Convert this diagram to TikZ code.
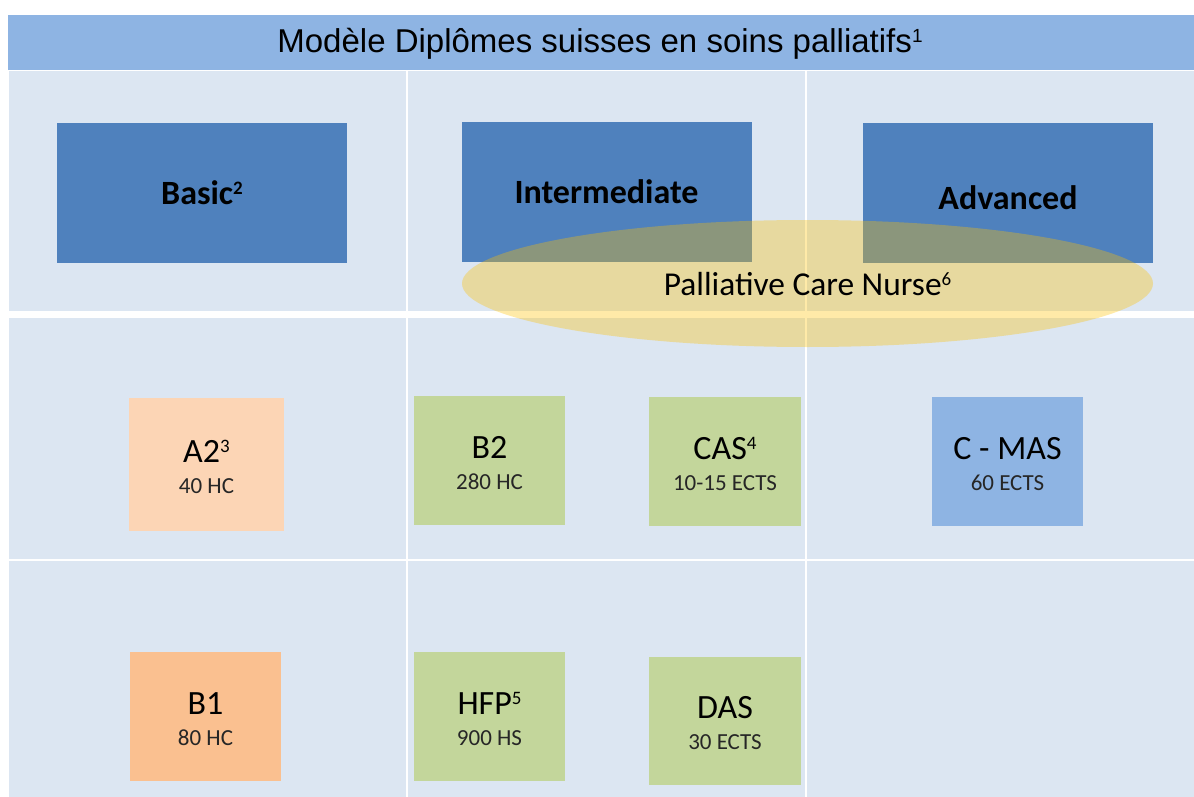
\documentclass[tikz,border=0pt]{standalone}
\usepackage{fontspec}
\setmainfont{Carlito}
\newfontfamily\arialfont{Liberation Sans}
\usetikzlibrary{shapes.geometric}

\definecolor{titleblue}{HTML}{8EB4E3}
\definecolor{cellbg}{HTML}{DCE6F2}
\definecolor{levelblue}{HTML}{4F81BD}
\definecolor{peachlight}{HTML}{FCD5B5}
\definecolor{peach}{HTML}{FAC090}
\definecolor{sage}{HTML}{C3D69B}
\definecolor{gold}{HTML}{FFC000}

% small raised footnote number
\newcommand{\upnum}[1]{\raisebox{5pt}{\fontsize{9.5}{11}\selectfont #1}}
\newcommand{\dipl}[2]{#1\\{\fontsize{11.5}{13}\selectfont\color{black!85}#2}}

\begin{document}
\begin{tikzpicture}[x=0.5pt,y=-0.5pt,
  levelbox/.style={fill=levelblue, inner sep=0pt, outer sep=0pt,
    minimum width=145pt, minimum height=70pt,
    text height=11.5pt, text depth=0pt,
    font=\bfseries\fontsize{17}{20}\selectfont},
  diplbox/.style={inner sep=0pt, outer sep=0pt, align=center,
    minimum width=76pt, minimum height=64.5pt,
    text height=28.5pt, text depth=0pt,
    font=\fontsize{17}{15.5}\selectfont},
  nurse/.style={ellipse, fill=gold, fill opacity=0.34, text opacity=1,
    inner sep=0pt, minimum width=345.5pt, minimum height=63.5pt,
    text height=11.5pt, text depth=0pt,
    font=\fontsize{16.7}{19}\selectfont}]

  \useasboundingbox (0,0) rectangle (1194,797);

%%%%%%%%%%%%%%%%%%%%%%%%%%%%%%%%%%%%%%%%%%
  % Title bar
  \fill[titleblue] (8,15) rectangle (1194,70);
  \node[anchor=base, font=\arialfont\fontsize{16.5}{19}\selectfont] (title) at (600,53)
    {Modèle Diplômes suisses en soins palliatifs\upnum{1}};

  % Grid cells
  \foreach \xa/\xb in {9/406,408/805,807/1194}
    \foreach \ya/\yb in {71/311,318/559,561/797}
      \fill[cellbg] (\xa,\ya) rectangle (\xb,\yb);

%%%%%%%%%%%%%%%%%%%%%%%%%%%%%%%%%%%%%%%%%%
  % Levels
  \node[levelbox] (basic) at (202,193) {Basic\upnum{2}};
  \node[levelbox] (intermediate) at (606.5,192) {Intermediate};
  \node[levelbox] (advanced) at (1008,193) {};
  \node[levelbox, fill=none] (advlabel) at (1008,198) {Advanced};

  % Palliative care nurse
  \node[nurse] (pcn) at (807.5,283.5) {Palliative Care Nurse\upnum{6}};

%%%%%%%%%%%%%%%%%%%%%%%%%%%%%%%%%%%%%%%%%%
  % Second row
  \node[diplbox, fill=peachlight, minimum width=77.5pt, minimum height=66.5pt]
    (a2) at (206.5,464.5) {\dipl{A2\upnum{3}}{40 HC}};
  \node[diplbox, fill=sage, minimum width=75.5pt] (b2) at (489.5,460.5) {\dipl{B2}{280 HC}};
  \node[diplbox, fill=sage] (cas) at (725,461.5) {\dipl{CAS\upnum{4}}{10-15 ECTS}};
  \node[diplbox, fill=titleblue, minimum width=75.5pt] (mas) at (1007.5,461.5) {\dipl{C - MAS}{60 ECTS}};

  % Third row
  \node[diplbox, fill=peach, minimum width=75.5pt] (b1) at (205.5,716.5) {\dipl{B1}{80 HC}};
  \node[diplbox, fill=sage, minimum width=75.5pt] (hfp) at (489.5,716.5) {\dipl{HFP\upnum{5}}{900 HS}};
  \node[diplbox, fill=sage, minimum height=64pt] (das) at (725,721) {\dipl{DAS}{30 ECTS}};

\end{tikzpicture}
\end{document}
